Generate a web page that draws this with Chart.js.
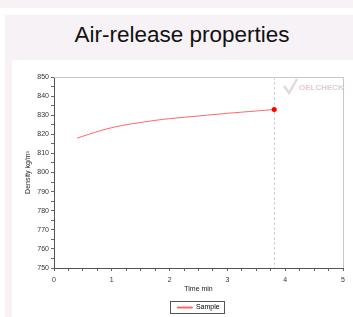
<!DOCTYPE html>
<html>
<head>
<meta charset="utf-8">
<script src="https://cdn.jsdelivr.net/npm/chart.js@4.4.1/dist/chart.umd.min.js"></script>
<style>
  html, body { margin:0; padding:0; background:#ffffff; width:353px; height:317px; overflow:hidden; }
  #strip { position:absolute; left:0; top:0; width:353px; height:8px; background:#f6f2f6; }
  #panel { position:absolute; left:5px; top:15px; width:348px; height:302px; background:#f6f2f6; }
  #title { position:absolute; left:8px; top:21px; width:348px; text-align:center; white-space:nowrap;
           font-family:"Liberation Sans", Arial, sans-serif; font-size:22.5px; color:#111; line-height:28px; }
  #inner { position:absolute; left:12px; top:60px; width:341px; height:257px; background:#ffffff; overflow:hidden; }
  #c { position:absolute; left:0; top:0; }
</style>
</head>
<body>
<div id="strip"></div>
<div id="panel"></div>
<div id="title">Air-release properties</div>
<div id="inner"><canvas id="c" width="341" height="261"></canvas></div>
<script>
const timeMin = [0.4, 0.6, 0.8, 1.0, 1.25, 1.5, 1.75, 2.0, 2.25, 2.5, 2.75, 3.0, 3.25, 3.5, 3.81];
const density = [818.0, 820.0, 821.9, 823.5, 825.0, 826.2, 827.3, 828.2, 828.9, 829.6, 830.3, 831.0, 831.6, 832.2, 833.0];
const seriesName = "Sample";
const yTitle = "Density kg/m³";
const xTitle = "Time min";

const FONT = "'Liberation Sans', Arial, sans-serif";
const lastIdx = density.length - 1;

const decor = {
  id: 'decor',
  beforeDatasetsDraw(chart) {
    const {ctx, chartArea:a, scales:{x}} = chart;
    ctx.save();
    // top and right frame
    ctx.strokeStyle = '#c8c8c8';
    ctx.lineWidth = 1;
    ctx.beginPath();
    ctx.moveTo(a.left, a.top + 0.5); ctx.lineTo(a.right + 0.5, a.top + 0.5);
    ctx.lineTo(a.right + 0.5, a.bottom);
    ctx.stroke();
    // dashed vertical line at last measurement
    const px = Math.round(x.getPixelForValue(timeMin[lastIdx])) + 0.5;
    ctx.strokeStyle = '#d4d4d4';
    ctx.setLineDash([3, 2]);
    ctx.beginPath();
    ctx.moveTo(px, a.top); ctx.lineTo(px, a.bottom);
    ctx.stroke();
    ctx.setLineDash([]);
    // watermark logo
    ctx.textBaseline = 'middle';
    ctx.font = 'bold 8px ' + FONT;
    ctx.fillStyle = 'rgba(230,140,150,0.5)';
    ctx.fillText('OEL', a.right - 44, a.top + 11);
    const w = ctx.measureText('OEL').width;
    ctx.fillStyle = 'rgba(200,170,175,0.6)';
    ctx.fillText('CHECK', a.right - 44 + w, a.top + 11);
    ctx.strokeStyle = 'rgba(215,200,205,0.7)';
    ctx.lineWidth = 2.5;
    ctx.beginPath();
    ctx.moveTo(a.right - 59, a.top + 9); ctx.lineTo(a.right - 54, a.top + 16); ctx.lineTo(a.right - 46, a.top + 2);
    ctx.stroke();
    ctx.restore();
  },
  afterDraw(chart) {
    const lg = chart.legend;
    if (!lg || !lg.legendHitBoxes || !lg.legendHitBoxes.length) return;
    const b = lg.legendHitBoxes[0];
    const {ctx} = chart;
    ctx.save();
    ctx.strokeStyle = '#555';
    ctx.lineWidth = 1;
    const cy = b.top + b.height / 2;
    ctx.strokeRect(Math.round(b.left) - 6.5, Math.round(cy) - 6.5, Math.round(b.width) + 12, 12);
    ctx.restore();
  }
};

new Chart(document.getElementById('c'), {
  type: 'line',
  data: {
    datasets: [{
      label: seriesName,
      data: timeMin.map((t, i) => ({x: t, y: density[i]})),
      borderColor: '#ff6666',
      backgroundColor: '#ff6666',
      borderWidth: 1,
      pointRadius: ctx => ctx.dataIndex === lastIdx ? 2.5 : 0,
      pointBackgroundColor: '#ff0000',
      pointBorderColor: '#ff0000',
      pointBorderWidth: 0,
      tension: 0.3,
      fill: false
    }]
  },
  options: {
    responsive: false,
    animation: false,
    devicePixelRatio: 1,
    layout: { padding: { top: 17, right: 10, left: 12, bottom: 0 } },
    plugins: {
      legend: {
        display: true,
        position: 'bottom',
        fullSize: false,
        labels: {
          boxWidth: 15, boxHeight: 1, padding: 3,
          color: '#222',
          font: { family: FONT, size: 7 },
          generateLabels(chart) {
            return [{ text: seriesName, strokeStyle: '#ff6666', fillStyle: '#ff6666', lineWidth: 1, datasetIndex: 0 }];
          }
        }
      },
      tooltip: { enabled: false },
      title: { display: false }
    },
    scales: {
      x: {
        type: 'linear', min: 0, max: 5,
        ticks: {
          stepSize: 0.25, autoSkip: false, maxRotation: 0,
          color: '#333', font: { family: FONT, size: 7 }, padding: 5,
          callback: v => Number.isInteger(v) ? String(v) : ''
        },
        grid: { drawOnChartArea: false, tickLength: 3, tickColor: '#666' },
        border: { color: '#555', width: 1 },
        title: { display: true, text: xTitle, color: '#222', font: { family: FONT, size: 7 }, padding: { top: 2, bottom: 8 } },
        afterFit: s => { s.height = 33; }
      },
      y: {
        type: 'linear', min: 750, max: 850,
        ticks: {
          stepSize: 5, autoSkip: false,
          color: '#333', font: { family: FONT, size: 7 }, padding: 2,
          callback: v => v % 10 === 0 ? String(v) : ''
        },
        grid: { drawOnChartArea: false, tickLength: 3, tickColor: '#666' },
        border: { color: '#555', width: 1 },
        title: { display: true, text: yTitle, color: '#222', font: { family: FONT, size: 7 }, padding: { top: 0, bottom: 2 } },
        afterFit: s => { s.width = 30; }
      }
    }
  },
  plugins: [decor]
});
</script>
</body>
</html>
